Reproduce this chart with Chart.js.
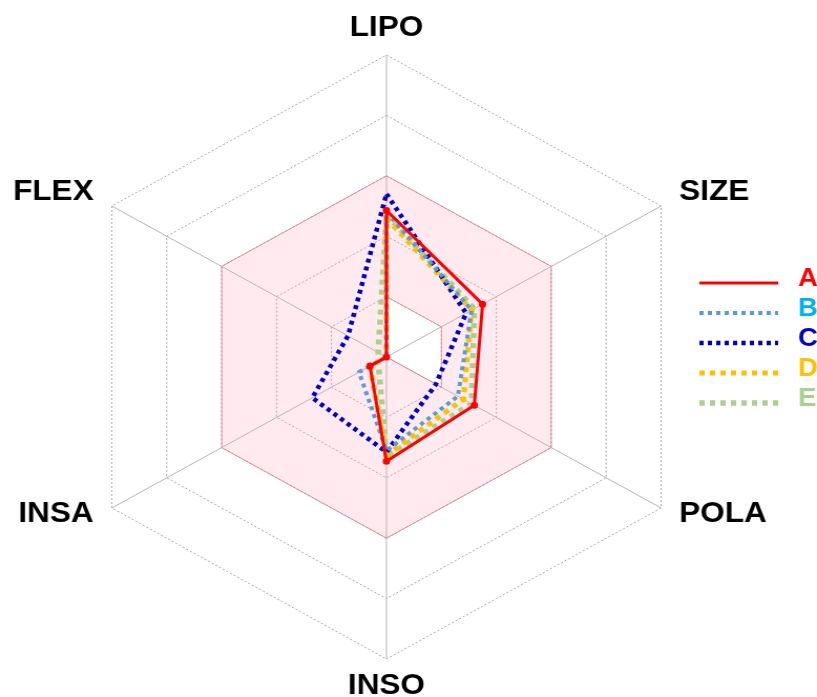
<!DOCTYPE html>
<html>
<head>
<meta charset="utf-8">
<script src="https://cdn.jsdelivr.net/npm/chart.js@4/dist/chart.umd.min.js"></script>
<style>
  html, body { margin: 0; padding: 0; background: #ffffff; overflow: hidden; }
  #radar { display: block; }
</style>
</head>
<body>
<!-- the drawing surface is widened slightly by its display size, giving the wide hexagon -->
<canvas id="radar" width="778" height="697" style="width:817px;height:697px;"></canvas>
<script>
// ---- data ----
const axes = ['LIPO', 'SIZE', 'POLA', 'INSO', 'INSA', 'FLEX'];
const seriesNames = ['A', 'B', 'C', 'D', 'E'];

const valuesA = [0.485, 0.35, 0.32, 0.345, 0.06, 0.00];
const valuesB = [0.48, 0.31, 0.26, 0.31, 0.10, 0.00];
const valuesC = [0.54, 0.29, 0.18, 0.315, 0.27, 0.14];
const valuesD = [0.46, 0.31, 0.28, 0.325, 0.06, 0.00];
const valuesE = [0.47, 0.32, 0.31, 0.33, 0.03, 0.03];

// optimal property band (pink zone): outer and inner limits
const optimalUpper = [0.6, 0.6, 0.6, 0.6, 0.6, 0.6];
const optimalLower = [0.2, 0.2, 0.2, 0.0, 0.0, 0.0];

const ringStep = 0.2;

// ---- styles ----
const lineColors = ['#ff0000', '#5b9bd5', '#0000c0', '#ffc000', '#a9d08e'];
const textColors = ['#ff0000', '#00b0f0', '#0000c0', '#ffc000', '#a9d08e'];
const lineWidths = [3, 4, 4.5, 5, 5.5];
const lineDashes = [[], [4, 4], [4, 4], [5, 5], [5, 5]];
const markerRadii = [3.5, 0, 0, 3, 0];
const bandFill = 'rgba(250, 160, 180, 0.22)';
const bandLine = 'rgba(220, 110, 135, 0.7)';

const seriesValues = [valuesA, valuesB, valuesC, valuesD, valuesE];

const datasets = seriesNames.map((name, i) => ({
  label: name,
  data: seriesValues[i],
  borderColor: lineColors[i],
  backgroundColor: lineColors[i],
  borderWidth: lineWidths[i],
  borderDash: lineDashes[i],
  borderJoinStyle: 'round',
  pointRadius: markerRadii[i],
  pointBackgroundColor: lineColors[i],
  pointBorderWidth: 0,
  fill: false
}));

datasets.push({
  label: 'optimal',
  data: optimalUpper,
  borderColor: bandLine,
  borderWidth: 1,
  backgroundColor: bandFill,
  pointRadius: 0,
  fill: '+1'
});
datasets.push({
  label: 'optimal-lower',
  data: optimalLower,
  borderColor: bandLine,
  borderWidth: 1,
  pointRadius: 0,
  fill: false
});

// axis names placed just outside the outer ring
const axisNames = {
  id: 'axisNames',
  afterDraw(chart) {
    const r = chart.scales.r;
    const ctx = chart.ctx;
    ctx.save();
    ctx.font = 'bold 30px "Liberation Sans", Arial, sans-serif';
    ctx.fillStyle = '#000000';
    ctx.textBaseline = 'middle';
    chart.data.labels.forEach((label, i) => {
      const s = Math.sin(r.getIndexAngle(i));
      const side = Math.abs(s) > 0.1;
      const p = r.getPointPosition(i, r.drawingArea + (side ? 20 : 27));
      ctx.textAlign = side ? (s > 0 ? 'left' : 'right') : 'center';
      ctx.fillText(label, p.x, p.y + (side ? -4 : 0));
    });
    ctx.restore();
  }
};

// series key on the right
const seriesKey = {
  id: 'seriesKey',
  afterDraw(chart) {
    const ctx = chart.ctx;
    ctx.save();
    seriesNames.forEach((name, i) => {
      const ds = chart.data.datasets[i];
      const y = 283 + i * 30;
      ctx.strokeStyle = ds.borderColor;
      ctx.lineWidth = ds.borderWidth;
      ctx.setLineDash(ds.borderDash);
      ctx.beginPath();
      ctx.moveTo(666, y);
      ctx.lineTo(741, y);
      ctx.stroke();
      ctx.setLineDash([]);
      ctx.fillStyle = textColors[i];
      ctx.font = 'bold 26px "Liberation Sans", Arial, sans-serif';
      ctx.textAlign = 'left';
      ctx.textBaseline = 'middle';
      ctx.fillText(name, 760, y - 4);
    });
    ctx.restore();
  }
};

new Chart(document.getElementById('radar'), {
  type: 'radar',
  data: { labels: axes, datasets },
  options: {
    responsive: false,
    devicePixelRatio: 1,
    animation: false,
    layout: { padding: { top: 55, bottom: 38, left: 0, right: 42 } },
    elements: { line: { tension: 0 } },
    plugins: {
      legend: { display: false },
      tooltip: { enabled: false }
    },
    scales: {
      r: {
        min: 0,
        max: 1,
        ticks: { display: false, stepSize: ringStep },
        pointLabels: { display: false },
        grid: { color: '#a6a6a6', lineWidth: 1, borderDash: [2, 2] },
        border: { dash: [2, 2] },
        angleLines: { color: '#b4b4b4', lineWidth: 1 }
      }
    }
  },
  plugins: [axisNames, seriesKey]
});
</script>
</body>
</html>
